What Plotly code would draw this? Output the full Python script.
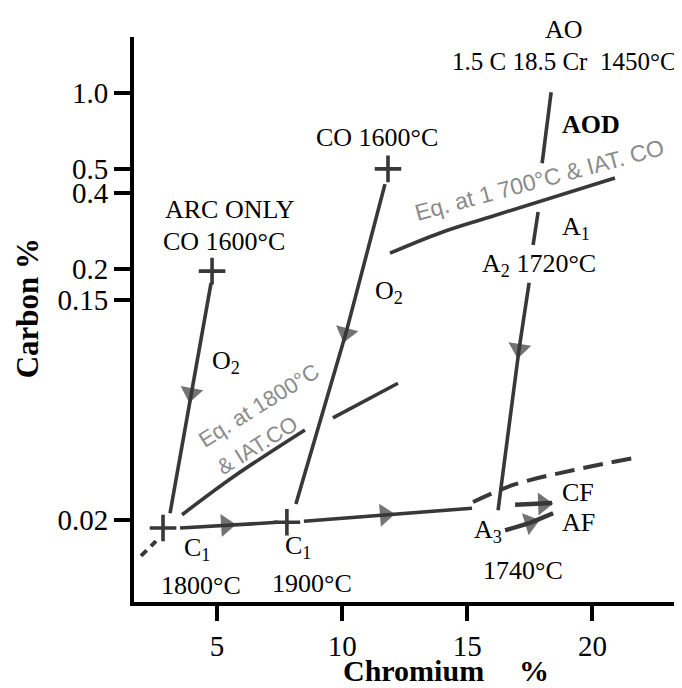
import numpy as np
import plotly.graph_objects as go

# ---------------- data ----------------
c_ticks = [0.02, 0.15, 0.2, 0.4, 0.5, 1.0]
c_tick_text = ["0.02", "0.15", "0.2", "0.4", "0.5", "1.0"]
cr_ticks = [5, 10, 15, 20]

# "+" start / turning points
start_cr = [4.80, 11.83, 2.84, 7.79]
start_c = [0.196, 0.50, 0.0186, 0.0196]

# ARC ONLY decarburisation path (middle point = arrow)
arc_cr = [4.76, 3.96, 3.12]
arc_c = [0.176, 0.0641, 0.0213]

# CO 1600 path
co_cr = [11.71, 10.15, 8.15]
co_c = [0.435, 0.111, 0.0232]

# C1 horizontal paths
c1a_cr = [3.52, 5.36, 7.43]
c1a_c = [0.0186, 0.0191, 0.0196]
c1b_cr = [8.47, 11.71, 15.19]
c1b_c = [0.0198, 0.0210, 0.0223]

# AOD path (three pieces)
aod1_cr = [18.35, 17.99]
aod1_c = [1.01, 0.527]
aod2_cr = [17.83, 17.63]
aod2_c = [0.337, 0.249]
aod3_cr = [17.47, 17.07, 16.23]
aod3_c = [0.176, 0.0960, 0.0219]

# CF / AF arrows
cf_cr = [16.91, 18.03, 18.39]
cf_c = [0.0230, 0.0232, 0.0234]
af_cr = [16.51, 17.51, 18.43]
af_c = [0.0182, 0.0195, 0.0213]

# equilibrium curves
eq1800a_cr = [3.60, 5.64, 8.51]
eq1800a_c = [0.0210, 0.0297, 0.0457]
eq1800b_cr = [9.63, 12.23]
eq1800b_c = [0.0510, 0.0701]
eq1700_cr = [11.91, 13.91, 15.91, 20.90]
eq1700_c = [0.231, 0.278, 0.322, 0.460]

# dashed limit lines
lim_low_cr = [1.96, 2.56]
lim_low_c = [0.0144, 0.0165]
lim_high_cr = [15.23, 16.83, 19.22, 21.82]
lim_high_c = [0.0236, 0.0276, 0.0316, 0.0356]

# ---------------- figure ----------------
LINE = "#383838"
fig = go.Figure()


def add_path(cr, c, arrow_idx=None, dash=None, shape="linear", width=3.6):
    sizes = [0] * len(cr)
    if arrow_idx is not None:
        sizes[arrow_idx] = 20
    fig.add_trace(go.Scatter(
        x=cr, y=c, mode="lines+markers" if arrow_idx is not None else "lines",
        line=dict(color=LINE, width=width, dash=dash, shape=shape),
        marker=dict(symbol="triangle-up", size=sizes, color=LINE,
                    angleref="previous", line=dict(width=0)),
        hoverinfo="skip", showlegend=False))


add_path(arc_cr, arc_c, 1)
add_path(co_cr, co_c, 1)
add_path(c1a_cr, c1a_c, 1)
add_path(c1b_cr, c1b_c, 1)
add_path(aod1_cr, aod1_c)
add_path(aod2_cr, aod2_c)
add_path(aod3_cr, aod3_c, 1)
add_path(cf_cr, cf_c, 1, width=4.5)
add_path(af_cr, af_c, 1, width=4.5)
add_path(eq1800a_cr, eq1800a_c, shape="spline")
add_path(eq1800b_cr, eq1800b_c)
add_path(eq1700_cr, eq1700_c, shape="spline")
add_path(lim_low_cr, lim_low_c, dash="8px,6px", width=4)
add_path(lim_high_cr, lim_high_c, dash="20px,9px", shape="spline", width=4)

fig.add_trace(go.Scatter(
    x=start_cr, y=start_c, mode="markers",
    marker=dict(symbol="cross-thin", size=19, line=dict(color=LINE, width=3.6)),
    hoverinfo="skip", showlegend=False))

SERIF = "Liberation Serif, Times New Roman, serif"
SANS = "Liberation Sans, Arial, sans-serif"

labels = [
    # text, Cr, C, xanchor, size, angle, family, color
    ("<b>AOD</b>", 19.94, 0.754, "center", 26, 0, SERIF, "black"),
    ("CO 1600°C", 11.39, 0.669, "center", 26, 0, SERIF, "black"),
    ("ARC ONLY", 5.52, 0.346, "center", 26, 0, SERIF, "black"),
    ("CO 1600°C", 5.28, 0.256, "center", 26, 0, SERIF, "black"),
    ("O<sub>2</sub>", 4.72, 0.0851, "left", 26, 0, SERIF, "black"),
    ("O<sub>2</sub>", 11.23, 0.162, "left", 26, 0, SERIF, "black"),
    ("A<sub>1</sub>", 18.71, 0.291, "left", 26, 0, SERIF, "black"),
    ("A<sub>2</sub> 1720°C", 15.51, 0.207, "left", 26, 0, SERIF, "black"),
    ("C<sub>1</sub>", 3.60, 0.01535, "left", 26, 0, SERIF, "black"),
    ("1800°C", 4.36, 0.01094, "center", 26, 0, SERIF, "black"),
    ("C<sub>1</sub>", 7.63, 0.01563, "left", 26, 0, SERIF, "black"),
    ("1900°C", 8.79, 0.01122, "center", 26, 0, SERIF, "black"),
    ("A<sub>3</sub>", 15.19, 0.01811, "left", 26, 0, SERIF, "black"),
    ("1740°C", 17.23, 0.01265, "center", 26, 0, SERIF, "black"),
    ("CF", 18.71, 0.02564, "left", 26, 0, SERIF, "black"),
    ("AF", 18.71, 0.01963, "left", 26, 0, SERIF, "black"),
    ("Eq. at 1 700°C & IAT. CO", 17.87, 0.452, "center", 23, -15, SANS, "#8a8a8a"),
    ("Eq. at 1800°C", 6.67, 0.0574, "center", 22, -32, SANS, "#8a8a8a"),
    ("& IAT.CO", 6.59, 0.0398, "center", 22, -32, SANS, "#8a8a8a"),
]

annotations = []
for text, xv, yv, xa, size, ang, fam, col in labels:
    annotations.append(dict(
        text=text, x=xv, y=float(np.log10(yv)), xref="x", yref="y",
        xanchor=xa, yanchor="middle", showarrow=False, textangle=ang,
        font=dict(family=fam, size=size, color=col)))

# labels above the plotting area (paper coordinates)
annotations.append(dict(text="AO", x=18.86, y=1.013, xref="x", yref="paper",
                        xanchor="center", yanchor="middle", showarrow=False,
                        font=dict(family=SERIF, size=26, color="black")))
annotations.append(dict(text="1.5\u00a0C\u00a018.5\u00a0Cr\u00a0\u00a01450°C", x=0.995, y=0.956,
                        xref="paper", yref="paper", xanchor="right", yanchor="middle",
                        showarrow=False, font=dict(family=SERIF, size=25, color="black")))

# axis titles
annotations.append(dict(text="<b>Carbon %</b>", x=-0.195, y=0.52, xref="paper", yref="paper",
                        xanchor="center", yanchor="middle", showarrow=False, textangle=-90,
                        font=dict(family=SERIF, size=31, color="black")))
annotations.append(dict(text="<b>Chromium</b>", x=0.378, y=-0.121, xref="paper", yref="paper",
                        xanchor="left", yanchor="middle", showarrow=False,
                        font=dict(family=SERIF, size=30, color="black")))
annotations.append(dict(text="<b>%</b>", x=0.699, y=-0.121, xref="paper", yref="paper",
                        xanchor="left", yanchor="middle", showarrow=False,
                        font=dict(family=SERIF, size=30, color="black")))

# the page body adds an 8 px offset, so the figure is 8 px smaller
fig.update_layout(
    width=674, height=680,
    margin=dict(l=126, r=0, t=29, b=86),
    paper_bgcolor="white", plot_bgcolor="white",
    showlegend=False,
    annotations=annotations,
    xaxis=dict(range=[1.68, 23.58], tickvals=cr_ticks, ticks="outside", ticklen=15,
               tickwidth=4, tickcolor="black", showline=True, linewidth=4, linecolor="black",
               showgrid=False, zeroline=False,
               tickfont=dict(family=SERIF, size=29, color="black")),
    yaxis=dict(type="log", range=[-2.025, 0.224], tickvals=c_ticks, ticktext=c_tick_text,
               ticks="outside", ticklen=16, tickwidth=4, tickcolor="black",
               showline=True, linewidth=4, linecolor="black", showgrid=False, zeroline=False,
               tickfont=dict(family=SERIF, size=29, color="black")),
)

fig.write_html("out.html")
